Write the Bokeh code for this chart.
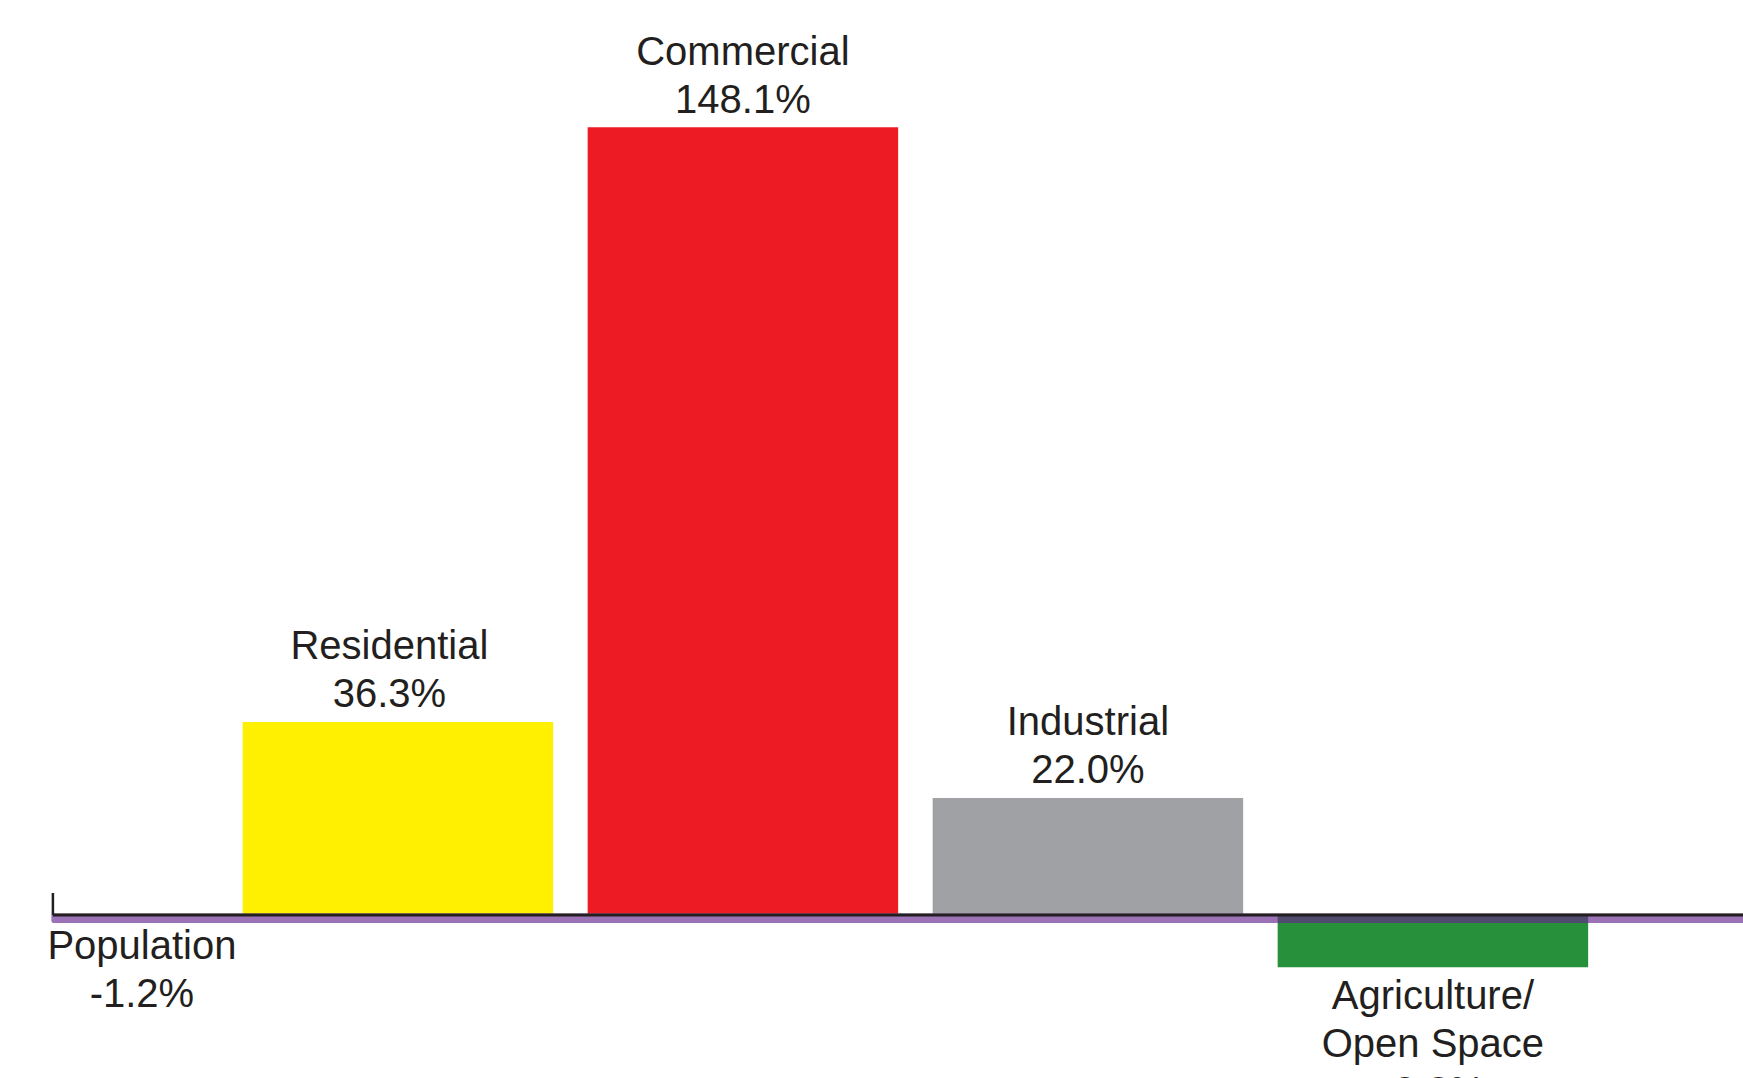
from bokeh.plotting import figure
from bokeh.models import Range1d
from bokeh.core.properties import value
from bokeh.embed import file_html
from bokeh.resources import INLINE

# ---- data ----
categories = ["Residential", "Commercial", "Industrial", "Agriculture/\nOpen Space"]
changes = [36.3, 148.1, 22.0, -9.8]
bar_colors = ["#FFEF00", "#ED1C24", "#A0A1A4", "#27903B"]
population_label = "Population"
population_change = -1.2
population_color = "#9B72B5"
overlap_color = "#4F4C6F"
text_color = "#231F20"

# ---- geometry (screen scale) ----
W, H = 1743, 1078
PX_PER_CAT = 345.0
ZERO_X_PX = 52.4
ZERO_Y_PX = 914.5
PX_PER_PCT = 5.319

x0 = -ZERO_X_PX / PX_PER_CAT
x1 = (W - ZERO_X_PX) / PX_PER_CAT
y1 = ZERO_Y_PX / PX_PER_PCT
y0 = -(H - ZERO_Y_PX) / PX_PER_PCT

p = figure(width=W, height=H, output_backend="svg", toolbar_location=None,
           x_range=Range1d(x0, x1), y_range=Range1d(y0, y1),
           min_border=0, min_border_left=0, min_border_right=0,
           min_border_top=0, min_border_bottom=0)
p.axis.visible = False
p.grid.visible = False
p.outline_line_color = None
p.background_fill_color = "white"
p.border_fill_color = "white"

xs = [i + 1 for i in range(len(categories))]
bw = 0.9

# bars
p.vbar(x=xs, top=[max(v, 0) for v in changes], bottom=[min(v, 0) for v in changes],
       width=bw, fill_color=bar_colors, line_color=None)

# population band across the whole width
p.quad(left=[0], right=[x1 + 1], top=[0], bottom=[population_change],
       fill_color=population_color, line_color=population_color, line_width=3)

# overlap of negative bars with population band
neg = [(x, v) for x, v in zip(xs, changes) if v < 0]
p.quad(left=[x - bw / 2 for x, _ in neg], right=[x + bw / 2 for x, _ in neg],
       top=[0] * len(neg), bottom=[population_change - 1.5 / PX_PER_PCT] * len(neg),
       fill_color=overlap_color, line_color=None)

# zero line and tick
p.segment(x0=[0], y0=[0], x1=[x1 + 1], y1=[0], line_color=text_color, line_width=3)
p.segment(x0=[0], y0=[0], x1=[0], y1=[22 / PX_PER_PCT], line_color=text_color, line_width=2.5)

# labels
FS = "40px"
LINE = 48.0 / PX_PER_PCT
SHIFT = 14.5 / PX_PER_PCT
GAP_POS = 14.0 / PX_PER_PCT + SHIFT
GAP_NEG = 42.0 / PX_PER_PCT - SHIFT
NUDGE_PX = {"Residential": -8.5}

def put(x, y, s):
    p.text(x=[x], y=[y], text=[s], text_font=value("Liberation Sans"), text_font_size=FS,
           text_align="center", text_baseline="alphabetic", text_color=text_color)

for x, cat, v in zip(xs, categories, changes):
    lines = cat.split("\n") + [f"{v:.1f}%"]
    lx = x + NUDGE_PX.get(cat, 0.0) / PX_PER_CAT
    if v >= 0:
        base = v + GAP_POS
        for k, s in enumerate(reversed(lines)):
            put(lx, base + k * LINE, s)
    else:
        base = v - GAP_NEG
        for k, s in enumerate(lines):
            put(lx, base - k * LINE, s)

pop_x = 89.0 / PX_PER_CAT
pop_base = population_change - 38.0 / PX_PER_PCT + SHIFT
put(pop_x, pop_base, population_label)
put(pop_x, pop_base - LINE, f"{population_change:.1f}%")

open("out.html", "w").write(file_html(p, INLINE))
